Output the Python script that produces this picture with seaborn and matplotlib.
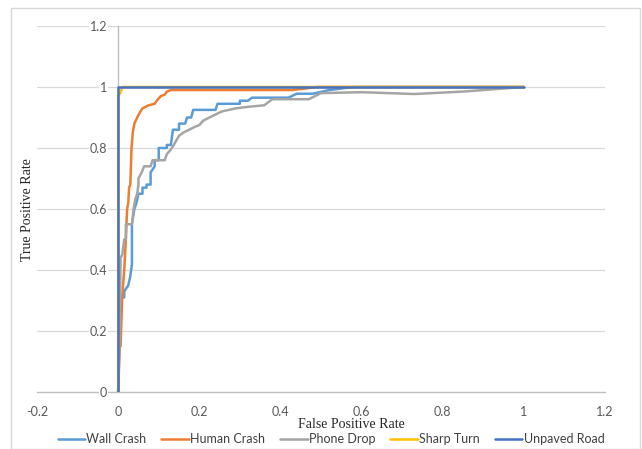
import matplotlib
matplotlib.use("Agg")
import matplotlib.pyplot as plt
import seaborn as sns
import pandas as pd
from matplotlib.patches import Rectangle

# ---- data ----
series_names = ["Wall Crash", "Human Crash", "Phone Drop", "Sharp Turn", "Unpaved Road"]
colors = ["#5B9BD5", "#ED7D31", "#A5A5A5", "#FFC000", "#4472C4"]

wall_fpr = [0, 0.003, 0.008, 0.015, 0.015, 0.025, 0.03, 0.034, 0.034, 0.04, 0.045, 0.05, 0.06, 0.06,
            0.07, 0.07, 0.08, 0.08, 0.09, 0.09, 0.1, 0.1, 0.12, 0.12, 0.13, 0.135, 0.15, 0.15, 0.165,
            0.17, 0.18, 0.185, 0.24, 0.245, 0.3, 0.3, 0.32, 0.33, 0.42, 0.44, 0.48, 0.52, 0.58, 1.0]
wall_tpr = [0, 0.2, 0.31, 0.31, 0.33, 0.35, 0.38, 0.42, 0.55, 0.6, 0.62, 0.65, 0.65, 0.67,
            0.67, 0.68, 0.68, 0.72, 0.74, 0.76, 0.76, 0.8, 0.8, 0.81, 0.81, 0.86, 0.86, 0.88, 0.88,
            0.9, 0.9, 0.925, 0.925, 0.945, 0.945, 0.955, 0.955, 0.965, 0.965, 0.978, 0.978, 0.99, 1.0, 1.0]

human_fpr = [0, 0.004, 0.006, 0.01, 0.015, 0.019, 0.022, 0.025, 0.027, 0.03, 0.033, 0.036, 0.04,
             0.047, 0.055, 0.06, 0.075, 0.09, 0.095, 0.105, 0.115, 0.12, 0.13, 0.43, 0.49, 1.0]
human_tpr = [0, 0.15, 0.15, 0.31, 0.4, 0.5, 0.6, 0.62, 0.67, 0.68, 0.8, 0.85, 0.88,
             0.9, 0.92, 0.93, 0.94, 0.945, 0.955, 0.97, 0.975, 0.985, 0.99, 0.99, 1.0, 1.0]

phone_fpr = [0, 0.004, 0.006, 0.01, 0.015, 0.019, 0.019, 0.034, 0.038, 0.042, 0.047, 0.05, 0.05,
             0.058, 0.064, 0.08, 0.085, 0.115, 0.12, 0.13, 0.137, 0.15, 0.16, 0.175, 0.19, 0.2,
             0.21, 0.225, 0.24, 0.256, 0.29, 0.32, 0.36, 0.38, 0.47, 0.5, 0.6, 0.73, 0.85, 1.0]
phone_tpr = [0, 0.2, 0.44, 0.45, 0.5, 0.5, 0.55, 0.55, 0.6, 0.63, 0.65, 0.68, 0.7,
             0.72, 0.74, 0.74, 0.76, 0.76, 0.78, 0.795, 0.81, 0.84, 0.85, 0.86, 0.87, 0.875,
             0.89, 0.9, 0.91, 0.92, 0.93, 0.935, 0.94, 0.96, 0.96, 0.98, 0.983, 0.977, 0.985, 1.0]

sharp_fpr = [0, 0, 0.005, 0.008, 0.01, 1.0]
sharp_tpr = [0, 0.97, 0.98, 0.99, 1.0, 1.0]

unpaved_fpr = [0, 0, 1.0]
unpaved_tpr = [0, 1.0, 1.0]

x_ticks = [-0.2, 0, 0.2, 0.4, 0.6, 0.8, 1, 1.2]
x_tick_labels = ["-0.2", "0", "0.2", "0.4", "0.6", "0.8", "1", "1.2"]
y_ticks = [0, 0.2, 0.4, 0.6, 0.8, 1, 1.2]
y_tick_labels = ["0", "0.2", "0.4", "0.6", "0.8", "1", "1.2"]

all_fpr = [wall_fpr, human_fpr, phone_fpr, sharp_fpr, unpaved_fpr]
all_tpr = [wall_tpr, human_tpr, phone_tpr, sharp_tpr, unpaved_tpr]

rows = []
for name, xs, ys in zip(series_names, all_fpr, all_tpr):
    for i, (x, y) in enumerate(zip(xs, ys)):
        rows.append({"series": name, "order": i, "fpr": x, "tpr": y})
df = pd.DataFrame(rows)

# ---- figure ----
sns.set_theme(style="white")
plt.rcParams["font.family"] = ["Lato", "DejaVu Sans"]

fig = plt.figure(figsize=(6.42, 4.49), dpi=100)
ax = fig.add_axes([37 / 642, (449 - 392) / 449, (605 - 37) / 642, (392 - 26) / 449])

# outer chart border
fig.patches.append(Rectangle((11 / 642, 0.0), (640 - 11) / 642, (449 - 8) / 449,
                             transform=fig.transFigure, fill=False,
                             edgecolor="#D9D9D9", linewidth=1.0, zorder=0))

ax.set_xlim(-0.2, 1.2)
ax.set_ylim(0, 1.2)
for yv in y_ticks[1:]:
    ax.axhline(yv, color="#D9D9D9", linewidth=0.9, zorder=0)

sns.lineplot(data=df, x="fpr", y="tpr", hue="series", hue_order=series_names,
             palette=colors, sort=False, estimator=None, units="series",
             linewidth=1.8, ax=ax, legend=True)

ax.spines["left"].set_position(("data", 0))
ax.spines["bottom"].set_position(("data", 0))
ax.spines["top"].set_visible(False)
ax.spines["right"].set_visible(False)
for s in ["left", "bottom"]:
    ax.spines[s].set_color("#BFBFBF")
    ax.spines[s].set_linewidth(1.0)
    ax.spines[s].set_zorder(0.5)

ax.set_xticks(x_ticks)
ax.set_xticklabels(x_tick_labels)
ax.set_yticks(y_ticks)
ax.set_yticklabels(y_tick_labels)
ax.tick_params(axis="x", length=4, width=1.0, color="#BFBFBF", direction="out",
               labelsize=9, labelcolor="#595959", pad=6)
ax.tick_params(axis="y", length=0, labelsize=9, labelcolor="#595959", pad=8)
for lab in ax.get_yticklabels():
    lab.set_bbox(dict(facecolor="white", edgecolor="none", pad=0.5))

ax.set_xlabel("")
ax.set_ylabel("")
fig.text(351 / 642, (449 - 424) / 449, "False Positive Rate", ha="center", va="center",
         fontsize=10, family=["Liberation Serif", "DejaVu Serif"], color="#262626")
fig.text(28 / 642, (449 - 210) / 449, "True Positive Rate", ha="center", va="center",
         rotation=90, fontsize=10, family=["Liberation Serif", "DejaVu Serif"], color="#262626")

handles, labels = ax.get_legend_handles_labels()
ax.legend_.remove()
fig.legend(handles, labels, loc="center", bbox_to_anchor=(331 / 642, (449 - 439) / 449),
           ncol=5, frameon=False, fontsize=9, handlelength=2.2, handletextpad=0.1,
           columnspacing=1.2, labelcolor="#404040", borderpad=0)

fig.savefig("out.png", dpi=100)
